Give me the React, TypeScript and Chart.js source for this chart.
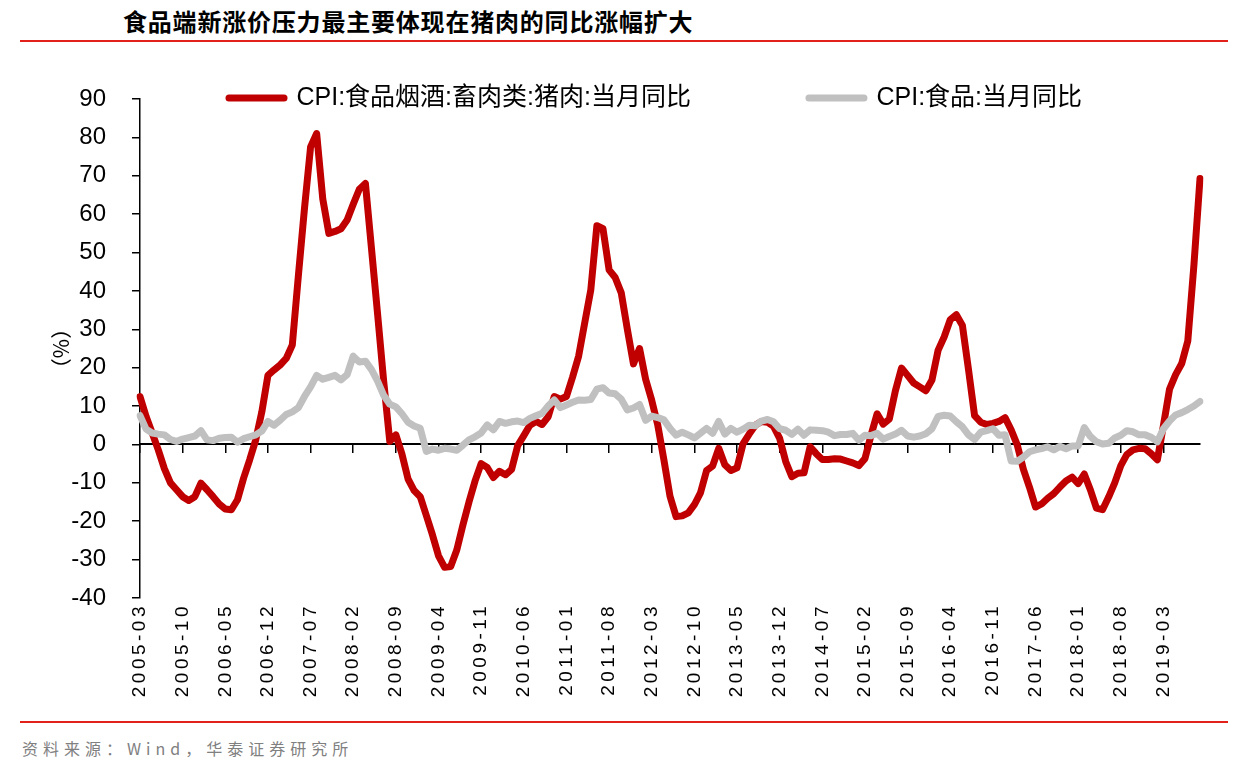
import React, { useEffect, useRef } from 'react';
import { Chart, registerables } from 'chart.js';

Chart.register(...registerables);

// ---------- data ----------
const START_YEAR = 2005;
const START_MONTH = 3;
const N_MONTHS = 175; // 2005-03 .. 2019-09

const MONTHS: string[] = [];
for (let k = 0; k < N_MONTHS; k++) {
  const m = START_MONTH - 1 + k;
  MONTHS.push(`${START_YEAR + Math.floor(m / 12)}-${String((m % 12) + 1).padStart(2, '0')}`);
}

const X_TICK_LABELS = [
  '2005-03', '2005-10', '2006-05', '2006-12', '2007-07', '2008-02', '2008-09',
  '2009-04', '2009-11', '2010-06', '2011-01', '2011-08', '2012-03', '2012-10',
  '2013-05', '2013-12', '2014-07', '2015-02', '2015-09', '2016-04', '2016-11',
  '2017-06', '2018-01', '2018-08', '2019-03',
];

// CPI:食品烟酒:畜肉类:猪肉:当月同比
const PORK_YOY = [
  12.5, 7.3, 3, -1.4, -6.3, -10, -11.8, -13.6, -14.6, -13.6,
  -10.1, -11.8, -13.6, -15.5, -16.8, -17, -14.4, -8.8, -4, 1.2,
  8.5, 18, 19.4, 20.7, 22.4, 25.9, 44, 61.5, 77.5, 81,
  64, 55, 55.5, 56.2, 58.5, 62.6, 66.5, 68, 51, 34,
  16.5, 0.8, 2.5, -2.5, -9, -12, -13.6, -18.5, -23.5, -29,
  -32, -31.8, -27.5, -21, -15, -9.5, -5, -6, -8.6, -7,
  -7.9, -6.5, -0.3, 2.3, 5, 6, 5.2, 7.2, 12.5, 11.8,
  12.5, 17.5, 23, 31.7, 40.3, 57, 56.2, 45.5, 43.5, 39.5,
  30, 21, 25, 17, 11.5, 5, -4, -13.5, -18.8, -18.6,
  -17.8, -15.7, -12.6, -6.8, -5.6, -1, -5.3, -6.8, -6.1, 0.2,
  2.7, 5, 6, 5.8, 4.7, 1.6, -4.5, -8.4, -7.5, -7.4,
  -0.6, -2.4, -3.9, -3.9, -3.7, -3.8, -4.3, -4.8, -5.5, -3.7,
  2.4, 8, 5.3, 6.6, 14, 19.9, 18, 16, 15, 14,
  16.8, 24.5, 28, 32.5, 33.8, 31, 19.5, 7.5, 5.8, 5.2,
  5.5, 6, 7, 3.8, -0.1, -6.4, -11.1, -16.3, -15.5, -14,
  -12.8, -11.1, -9.5, -8.5, -10.2, -7.7, -11.8, -16.6, -17, -13.7,
  -10, -5.5, -2.6, -1.4, -1, -1.1, -2.4, -4, 5, 14.4,
  18.2, 21.1, 27, 46.7, 69.3,
];

// CPI:食品:当月同比
const FOOD_YOY = [
  7.5, 4, 3, 2.7, 2.5, 1.3, 0.8, 1.4, 1.8, 2.2,
  3.6, 1.2, 1, 1.6, 1.8, 1.9, 0.6, 1.5, 2, 2.5,
  3.5, 6, 5, 6.3, 7.8, 8.5, 9.6, 12.5, 15, 18,
  17, 17.5, 18, 16.8, 18.2, 23, 21.5, 21.7, 19.5, 16.5,
  12.8, 10.5, 9.8, 8, 5.8, 4.8, 4.2, -1.8, -1.2, -1.5,
  -1, -1.2, -1.5, -0.2, 1.2, 2, 3, 5.1, 3.8, 6,
  5.5, 5.9, 6.1, 5.7, 6.8, 7.5, 8.1, 10, 11.6, 9.6,
  10.3, 11, 11.6, 11.5, 11.7, 14.4, 14.8, 13.4, 13.2, 11.8,
  9, 9.5, 10.4, 6.3, 7.4, 7, 6.4, 4.2, 2.4, 3.2,
  2.5, 1.7, 2.9, 4.2, 2.9, 6, 2.7, 4.2, 3.2, 4,
  5, 4.9, 6.1, 6.5, 5.9, 4.1, 3.7, 2.6, 4, 2.4,
  3.8, 3.7, 3.6, 3.2, 2.3, 2.6, 2.6, 2.9, 1.1, 2.4,
  2.3, 2.9, 1.4, 2.1, 2.7, 3.7, 2.2, 1.9, 2.2, 2.8,
  4.1, 7.3, 7.6, 7.4, 5.9, 4.6, 2.5, 1.3, 3.2, 3.6,
  4.1, 2.4, 2.5, -4.3, -4.4, -3.3, -1.9, -1.4, -1.1, -0.6,
  -1.4, -0.5, -1.1, -0.4, -0.4, 4.4, 2.1, 0.7, 0.1, 0.3,
  1.7, 2.4, 3.6, 3.3, 2.5, 2.5, 1.9, 0.7, 4.1, 6.1,
  7.7, 8.3, 9.1, 10, 11.2,
];

const SERIES_NAMES = ['CPI:食品烟酒:畜肉类:猪肉:当月同比', 'CPI:食品:当月同比'];
const SERIES_COLORS = ['#C00000', '#C0C0C0'];
const Y_MIN = -40;
const Y_MAX = 90;
const Y_STEP = 10;
const Y_TITLE = '（%）';

const TITLE = '食品端新涨价压力最主要体现在猪肉的同比涨幅扩大';
const SOURCE = '资料来源：Wind，华泰证券研究所';

// ---------- style constants ----------
const LATIN = '"Liberation Sans", Arial, "Noto Sans CJK SC", sans-serif';
const CJK = '"Noto Sans CJK SC", "Liberation Sans", sans-serif';
const CANVAS_W = 1230;
const CANVAS_H = 658;
const LINE_W = 7;
const LEGEND_FONT_SIZE = 25;
const LEGEND_PAD = 118;
const LEGEND_OFFSET_X = 89;
const X_LABEL_SPACING = '3.5px';

const tickSet = new Set(X_TICK_LABELS);

// Places the legend over the top of the plot area (as in the source chart)
const legendInPlot = {
  id: 'legendInPlot',
  afterLayout(chart: any) {
    const lg = chart.legend;
    if (!lg) return;
    const ca = chart.chartArea;
    const w = lg.right - lg.left;
    lg.top = ca.top - 1 - LEGEND_FONT_SIZE / 2 - LEGEND_PAD;
    lg.bottom = ca.top + LEGEND_FONT_SIZE;
    lg.left = ca.left + LEGEND_OFFSET_X - LEGEND_PAD;
    lg.right = lg.left + w;
  },
};

// Letter-spaced category labels like the original rendering
const spacedXLabels = {
  id: 'spacedXLabels',
  afterLayout(chart: any) {
    const s = chart.scales.x;
    if (!s || s.__spaced) return;
    const orig = s.drawLabels;
    s.drawLabels = function (ca: any) {
      const ctx = this.ctx;
      const prev = ctx.letterSpacing;
      ctx.letterSpacing = X_LABEL_SPACING;
      orig.call(this, ca);
      ctx.letterSpacing = prev || '0px';
    };
    s.__spaced = true;
  },
};

function ChartView() {
  const ref = useRef<HTMLCanvasElement | null>(null);
  useEffect(() => {
    if (!ref.current) return;
    const chart = new Chart(ref.current, {
      type: 'line',
      data: {
        labels: MONTHS,
        datasets: [
          {
            label: SERIES_NAMES[0],
            data: PORK_YOY,
            borderColor: SERIES_COLORS[0],
            backgroundColor: SERIES_COLORS[0],
            borderWidth: LINE_W,
            pointRadius: 0,
            tension: 0,
            borderJoinStyle: 'round',
            borderCapStyle: 'round',
            order: 1,
          },
          {
            label: SERIES_NAMES[1],
            data: FOOD_YOY,
            borderColor: SERIES_COLORS[1],
            backgroundColor: SERIES_COLORS[1],
            borderWidth: LINE_W,
            pointRadius: 0,
            tension: 0,
            borderJoinStyle: 'round',
            borderCapStyle: 'round',
            order: 0,
          },
        ],
      },
      options: {
        responsive: false,
        animation: false,
        devicePixelRatio: 1,
        layout: { padding: { left: 0, right: CANVAS_W - 1200, top: 0, bottom: 0 } },
        plugins: {
          tooltip: { enabled: false },
          legend: {
            position: 'top',
            align: 'start',
            fullSize: true,
            maxHeight: 49,
            labels: {
              font: { family: LATIN, size: LEGEND_FONT_SIZE },
              color: '#000',
              padding: LEGEND_PAD,
              usePointStyle: true,
              pointStyleWidth: 55,
              sort: (a: any, b: any) => a.datasetIndex - b.datasetIndex,
              generateLabels: (c: any) =>
                Chart.defaults.plugins.legend.labels.generateLabels(c).map((it: any) => ({
                  ...it,
                  pointStyle: 'line',
                  lineWidth: 7,
                  lineCap: 'round',
                  strokeStyle: SERIES_COLORS[it.datasetIndex],
                  fillStyle: SERIES_COLORS[it.datasetIndex],
                  fontColor: '#000',
                })),
            },
          },
        },
        scales: {
          x: {
            type: 'category',
            position: 'bottom',
            grid: { display: false, drawTicks: false },
            border: { display: false },
            ticks: {
              autoSkip: false,
              minRotation: 90,
              maxRotation: 90,
              padding: 5,
              color: '#000',
              font: { family: LATIN, size: 19 },
              callback: (_v: any, index: number) => (tickSet.has(MONTHS[index]) ? MONTHS[index] : ''),
            },
            afterFit: (s: any) => {
              s.height = 110;
            },
          },
          x0: {
            type: 'category',
            axis: 'x',
            position: { y: 0 },
            grid: {
              drawOnChartArea: false,
              drawTicks: true,
              tickLength: 8,
              lineWidth: 1.5,
              color: (c: any) => (tickSet.has(MONTHS[c.index]) ? '#000' : 'rgba(0,0,0,0)'),
            },
            border: { display: true, color: '#000', width: 2 },
            ticks: { display: false, autoSkip: false },
          },
          y: {
            type: 'linear',
            position: 'left',
            min: Y_MIN,
            max: Y_MAX,
            ticks: {
              stepSize: Y_STEP,
              padding: 26,
              color: '#000',
              font: { family: LATIN, size: 24 },
            },
            grid: { drawOnChartArea: false, drawTicks: true, tickLength: 8, color: '#000', lineWidth: 1.5 },
            border: { display: true, color: '#000', width: 1.5 },
            title: {
              display: true,
              text: Y_TITLE,
              color: '#000',
              font: { family: CJK, size: 21 },
              padding: { top: 48, bottom: 0 },
            },
            afterFit: (s: any) => {
              s.width = 140;
            },
          },
        },
      } as any,
      plugins: [legendInPlot, spacedXLabels],
    } as any);
    return () => chart.destroy();
  }, []);
  return <canvas ref={ref} width={CANVAS_W} height={CANVAS_H} style={{ width: CANVAS_W, height: CANVAS_H, display: 'block' }} />;
}

export default function App() {
  return (
    <div
      style={{
        position: 'absolute',
        left: 0,
        top: 0,
        width: 1257,
        height: 769,
        overflow: 'hidden',
        background: '#fff',
      }}
    >
      <div
        style={{
          position: 'absolute',
          left: 123,
          top: 5,
          font: `bold 24px ${CJK}`,
          letterSpacing: '0.8px',
          color: '#000',
          whiteSpace: 'nowrap',
          lineHeight: '32px',
        }}
      >
        {TITLE}
      </div>
      <div style={{ position: 'absolute', left: 20, top: 40, width: 1208, height: 2, background: '#E3211B' }} />
      <div style={{ position: 'absolute', left: 0, top: 50, width: CANVAS_W, height: CANVAS_H }}>
        <ChartView />
      </div>
      <div style={{ position: 'absolute', left: 20, top: 721, width: 1208, height: 2, background: '#E3211B' }} />
      <div
        style={{
          position: 'absolute',
          left: 22,
          top: 736,
          font: `16px ${CJK}`,
          letterSpacing: '5px',
          color: '#808080',
          whiteSpace: 'nowrap',
          lineHeight: '24px',
        }}
      >
        {SOURCE}
      </div>
    </div>
  );
}
